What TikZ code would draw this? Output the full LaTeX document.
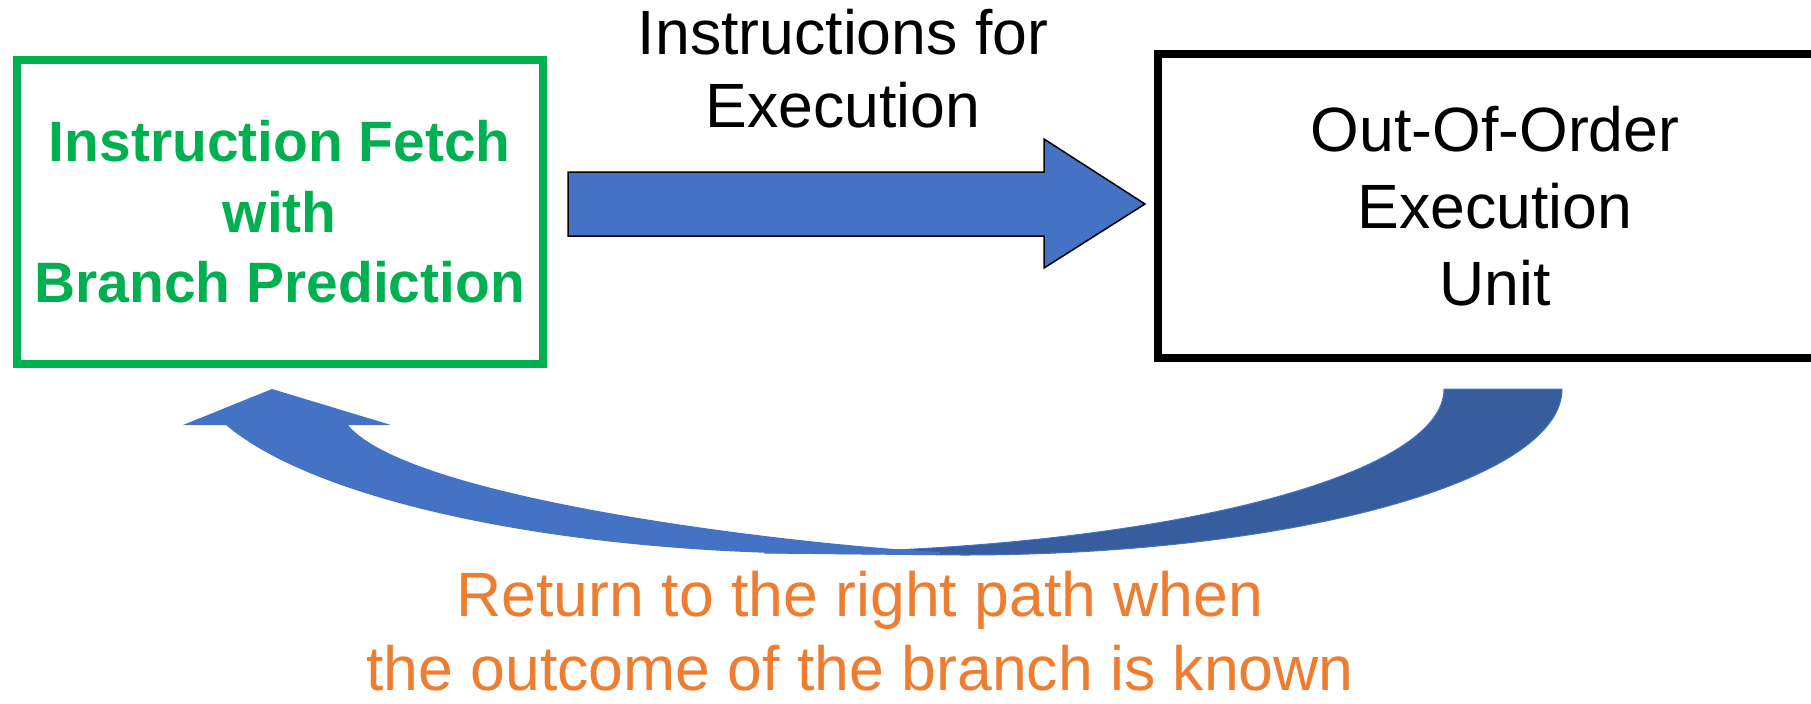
\documentclass[tikz,border=0pt]{standalone}
\usepackage{fontspec}
\setmainfont{Liberation Sans}
\usepackage{xcolor}
\definecolor{fetchGreen}{HTML}{00B050}
\definecolor{arrowBlue}{HTML}{4472C4}
\definecolor{arrowShade}{HTML}{385D9E}
\definecolor{noteOrange}{HTML}{ED7D31}

\begin{document}
\begin{tikzpicture}[
  x=0.1mm, y=-0.1mm,
  boxStyle/.style={draw, line width=0.8mm, minimum height=30.4mm, inner sep=0pt, align=center},
  textStyle/.style={align=center, inner sep=0pt},
  arrowStyle/.style={fill=arrowBlue, draw=black, line width=0.15mm}]

\useasboundingbox (0,0) rectangle (1811,703);

\node [boxStyle, minimum width=52.65mm, draw=fetchGreen, text=fetchGreen, font=\bfseries\fontsize{16.2}{20.06}\selectfont] (fetch) at (279.75,212) {Instruction Fetch\\with\\Branch Prediction};
\node [boxStyle, minimum width=67.4mm, font=\fontsize{17.8}{21.9}\selectfont] (exec) at (1495,206) {Out-Of-Order\\Execution\\Unit};

\node [textStyle, font=\fontsize{17.8}{20.8}\selectfont] (instr) at (843,68.7) {Instructions for\\Execution};
\node [textStyle, text=noteOrange, font=\fontsize{17.8}{21.05}\selectfont] (note) at (860,631) {Return to the right path when\\the outcome of the branch is known};

\draw [arrowStyle] (568,172) -- (1044,172) -- (1044,139) -- (1145,204) -- (1044,268) -- (1044,236) -- (568,236) -- cycle;

% back part of the return arrow
\draw [fill=arrowShade, draw=arrowBlue, line width=0.1mm] (1444,389) -- (1562,389) .. controls (1562,481) and (1293,555) .. (962,555) -- (764,553) .. controls (1140,553) and (1444,480) .. (1444,389) -- cycle;
% front part with head
\fill [arrowBlue] (272,389) -- (391,425) -- (348,425) .. controls (410,500) and (800,545) .. (940,552) -- (940,554) -- (840,554) .. controls (563,554) and (317,502) .. (226,425) -- (183,425) -- cycle;
\end{tikzpicture}
\end{document}
